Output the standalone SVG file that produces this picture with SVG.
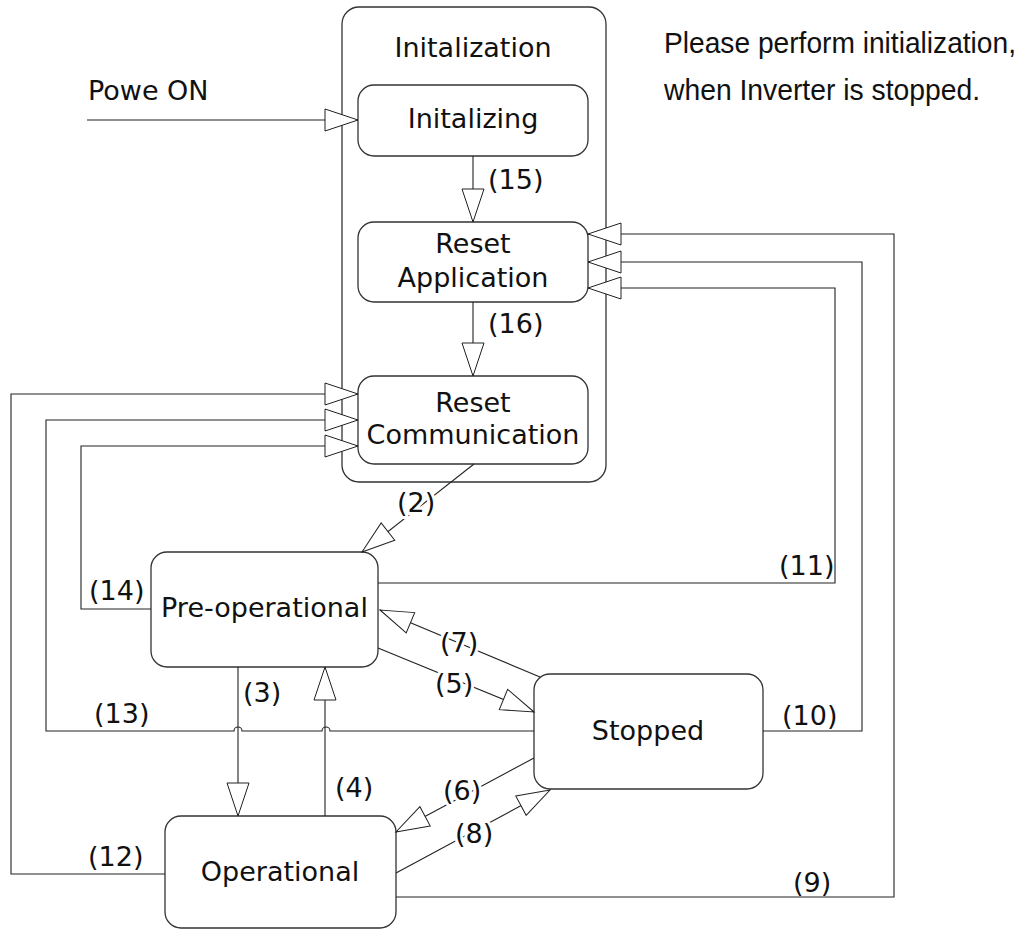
<svg xmlns="http://www.w3.org/2000/svg" width="1028" height="930" viewBox="0 0 1028 930">
<style>
.box{fill:#fff;stroke:#333;stroke-width:1.3}
.ln{fill:none;stroke:#222;stroke-width:1.1}
.t{font-family:"DejaVu Sans",Verdana,sans-serif;font-size:27px;fill:#111}
.c{text-anchor:middle}
.h{paint-order:stroke;stroke:#fff;stroke-width:6;stroke-linejoin:round}
.note{font-family:"Liberation Sans",Arial,sans-serif;font-size:29px;fill:#111}
</style>
<defs>
<marker id="a" markerUnits="userSpaceOnUse" markerWidth="36" markerHeight="24" viewBox="0 0 36 24" refX="34" refY="12" orient="auto" overflow="visible">
<path d="M1,1 L34,12 L1,23 Z" fill="#fff" stroke="#222" stroke-width="1"/>
</marker>
</defs>
<rect width="1028" height="930" fill="#fff"/>
<g id="initialization">
<rect class="box" x="342" y="7" width="264" height="475" rx="17"/>
<text class="t c" x="473" y="57">Initalization</text>
</g>
<g id="initializing">
<rect class="box" x="358" y="85" width="230" height="71" rx="16"/>
<text class="t c" x="473" y="128">Initalizing</text>
</g>
<g id="reset-application">
<rect class="box" x="358" y="222" width="230" height="80" rx="16"/>
<text class="t c" x="473" y="253">Reset</text>
<text class="t c" x="473" y="287">Application</text>
</g>
<g id="reset-communication">
<rect class="box" x="358" y="376" width="230" height="88" rx="16"/>
<text class="t c" x="473" y="412">Reset</text>
<text class="t c" x="473" y="444">Communication</text>
</g>
<g id="pre-operational">
<rect class="box" x="151" y="552" width="227" height="115" rx="16"/>
<text class="t c" x="264.5" y="617">Pre-operational</text>
</g>
<g id="stopped">
<rect class="box" x="534" y="674" width="229" height="115" rx="16"/>
<text class="t c" x="648" y="740">Stopped</text>
</g>
<g id="operational">
<rect class="box" x="165" y="816" width="231" height="112" rx="16"/>
<text class="t c" x="280" y="881">Operational</text>
</g>
<g id="note">
<text class="note" x="664" y="53" textLength="352" lengthAdjust="spacingAndGlyphs">Please perform initialization,</text>
<text class="note" x="664" y="100" textLength="316" lengthAdjust="spacingAndGlyphs">when Inverter is stopped.</text>
</g>
<g id="connectors">
<path class="ln" d="M87,120 H358" marker-end="url(#a)"/>
<path class="ln" d="M473,156 V222" marker-end="url(#a)"/>
<path class="ln" d="M473,302 V376" marker-end="url(#a)"/>
<path class="ln" d="M474,464 L362,552" marker-end="url(#a)"/>
<path class="ln" d="M238,667 V816" marker-end="url(#a)"/>
<path class="ln" d="M325,816 V667" marker-end="url(#a)"/>
<path class="ln" d="M378,648 L534,712" marker-end="url(#a)"/>
<path class="ln" d="M540,677 L380,610" marker-end="url(#a)"/>
<path class="ln" d="M534,758 L396,832" marker-end="url(#a)"/>
<path class="ln" d="M396,873 L550,790" marker-end="url(#a)"/>
<path class="ln" d="M396,897 H894 V234 H588" marker-end="url(#a)"/>
<path class="ln" d="M763,731 H862 V262 H588" marker-end="url(#a)"/>
<path class="ln" d="M378,583 H835 V288 H588" marker-end="url(#a)"/>
<path class="ln" d="M165,874 H11 V394 H358" marker-end="url(#a)"/>
<path class="ln" d="M534,731 H330 A4,4 0 0 0 322,731 H242 A4,4 0 0 0 234,731 H46 V420 H358" marker-end="url(#a)"/>
<path class="ln" d="M151,609 H81 V446 H358" marker-end="url(#a)"/>
</g>
<g id="labels">
<text class="t" x="88" y="100">Powe ON</text>
<text class="t" x="488" y="189">(15)</text>
<text class="t" x="488" y="333">(16)</text>
<text class="t h" x="397" y="512">(2)</text>
<text class="t" x="243" y="702">(3)</text>
<text class="t" x="335" y="797">(4)</text>
<text class="t h" x="435" y="693">(5)</text>
<text class="t h" x="443" y="800">(6)</text>
<text class="t h" x="440" y="652">(7)</text>
<text class="t h" x="455" y="843">(8)</text>
<text class="t" x="793" y="892">(9)</text>
<text class="t" x="782" y="725">(10)</text>
<text class="t" x="779" y="575">(11)</text>
<text class="t" x="88" y="866">(12)</text>
<text class="t" x="94" y="723">(13)</text>
<text class="t" x="89" y="600">(14)</text>
</g>
</svg>
